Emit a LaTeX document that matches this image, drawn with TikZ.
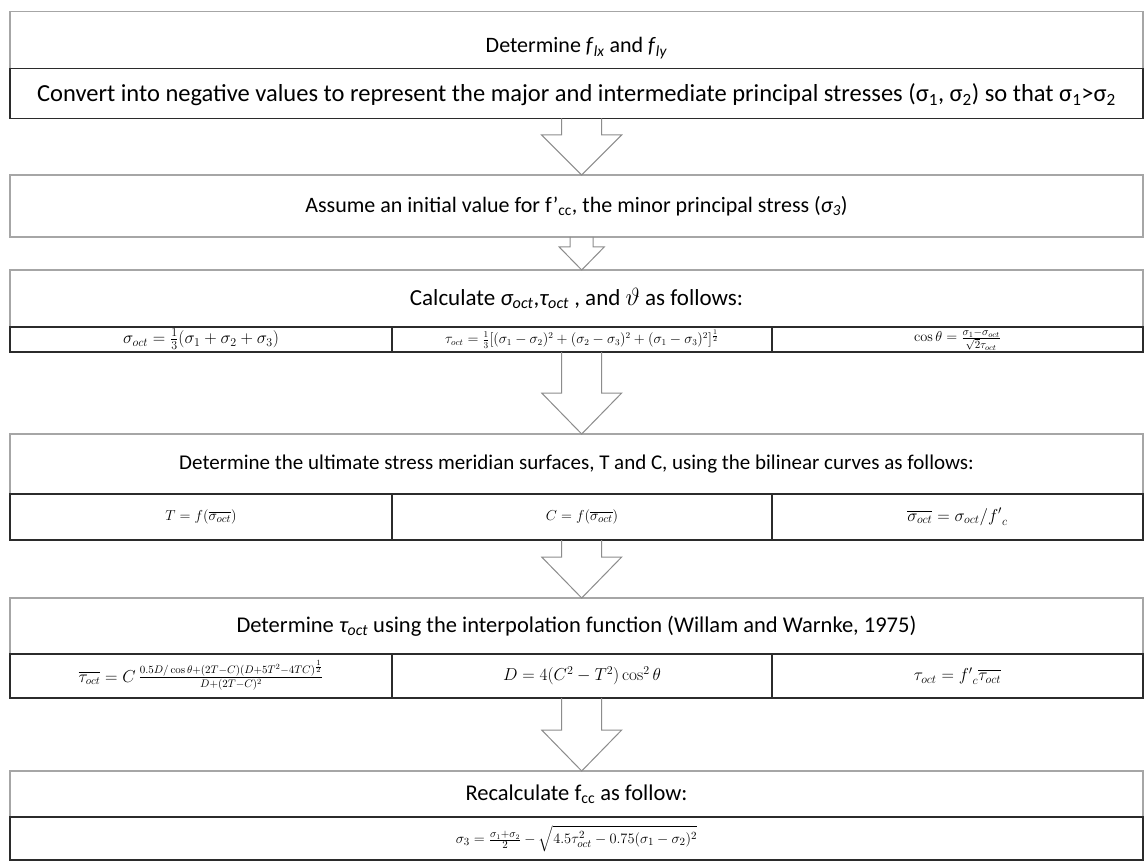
\documentclass[tikz,border=0pt]{standalone}
\usepackage{amsmath}
\usepackage[no-math]{fontspec}
\setmainfont{Carlito}
\usetikzlibrary{calc}
\definecolor{graybd}{HTML}{A6A6A6}
\definecolor{darkbd}{HTML}{2B2B2B}
\definecolor{arrowbd}{HTML}{8C8C8C}
\tikzset{
  every node/.style={inner sep=0pt, outer sep=0pt},
  headbox/.style={draw=graybd, line width=1.2pt, fill=white, minimum width=1133pt, font=\fontsize{22.5}{27}\selectfont},
  eqbox/.style={draw=darkbd, line width=1.2pt, fill=white, font=\fontsize{15}{18}\selectfont},
  blockarr/.style={draw=arrowbd, line width=1pt, line join=miter},
}
\newcommand\eqc[1]{\smash{\raisebox{-0.25em}{$\vcenter{\hbox{$#1$}}$}}}
\newcommand\flowarrow[5]{%
  \draw[blockarr] let \p1=(#1.south -| ax), \p2=(#2.north -| ax) in
  (\x1-#3,\y1) -- (\x1-#3,\y2+#5) -- (\x1-#4,\y2+#5) -- (\p2) --
  (\x1+#4,\y2+#5) -- (\x1+#3,\y2+#5) -- (\x1+#3,\y1);}
\begin{document}
\begin{tikzpicture}[x=1pt,y=-1pt]
\path[fill=white] (0,0) rectangle (1144,861);
\useasboundingbox (0,0) rectangle (1144,861);
\coordinate (ax) at (581.7,0);
% box A
\node[headbox, minimum height=56.6pt, text height=30pt, text depth=5pt, font=\fontsize{22}{26}\selectfont] (A1) at (576.5,40) {Determine \textit{f}\textsubscript{\textit{lx}} and \textit{f}\textsubscript{\textit{ly}}};
\node[eqbox, minimum width=1133pt, minimum height=50pt, font=\fontsize{24.5}{28}\selectfont, text height=21pt, text depth=5pt] (A2) at (576.5,93.3) {Convert into negative values to represent the major and intermediate principal stresses (σ\textsubscript{1}, σ\textsubscript{2}) so that σ\textsubscript{1}>σ\textsubscript{2}};
% box B
\node[headbox, minimum height=62pt, font=\fontsize{22}{26}\selectfont] (B) at (576.5,206) {Assume an initial value for f’\textsubscript{cc}, the minor principal stress (\textit{σ\textsubscript{3}})};
% box C
\node[headbox, minimum height=57pt, font=\fontsize{23}{27}\selectfont] (C1) at (576.5,298.5) {Calculate \textit{σ\textsubscript{oct}},\textit{τ\textsubscript{oct}} , and $\vartheta$ as follows:};
\node[eqbox, minimum width=382pt, minimum height=25pt, font=\fontsize{17}{19}\selectfont] (C2a) at (201,339.5) {\eqc{\sigma_{oct}=\tfrac{1}{3}(\sigma_1+\sigma_2+\sigma_3)}};
\node[eqbox, minimum width=380pt, minimum height=25pt, font=\fontsize{13.5}{15}\selectfont] (C2b) at (582,339.5) {\eqc{\tau_{oct}=\tfrac{1}{3}[(\sigma_1-\sigma_2)^2+(\sigma_2-\sigma_3)^2+(\sigma_1-\sigma_3)^2]^{\frac{1}{2}}}};
\node[eqbox, minimum width=371pt, minimum height=25pt, font=\fontsize{15.5}{18}\selectfont] (C2c) at (957.5,339.5) {\eqc{\cos\theta=\tfrac{\sigma_1-\sigma_{oct}}{\sqrt{2}\tau_{oct}}}};
% box D
\node[headbox, minimum height=60pt, font=\fontsize{21}{25}\selectfont] (D1) at (576.5,464) {Determine the ultimate stress meridian surfaces, T and C, using the bilinear curves as follows:};
\node[eqbox, minimum width=382pt, minimum height=46pt] (D2a) at (201,517) {\eqc{T=f(\overline{\sigma_{oct}})}};
\node[eqbox, minimum width=380pt, minimum height=46pt] (D2b) at (582,517) {\eqc{C=f(\overline{\sigma_{oct}})}};
\node[eqbox, minimum width=371pt, minimum height=46pt, font=\fontsize{16.5}{19}\selectfont] (D2c) at (957.5,517) {\eqc{\overline{\sigma_{oct}}=\sigma_{oct}/{f'}_c}};
% box E
\node[headbox, minimum height=56pt] (E1) at (576.5,626) {Determine \textit{τ\textsubscript{oct}} using the interpolation function (Willam and Warnke, 1975)};
\node[eqbox, minimum width=382pt, minimum height=44pt, font=\fontsize{16}{19}\selectfont] (E2a) at (201,676) {\eqc{\overline{\tau_{oct}}=C\,\tfrac{0.5D/\cos\theta+(2T-C)(D+5T^2-4TC)^{\frac{1}{2}}}{D+(2T-C)^2}}};
\node[eqbox, minimum width=380pt, minimum height=44pt, font=\fontsize{16.5}{19}\selectfont] (E2b) at (582,676) {\eqc{D=4(C^2-T^2)\cos^2\theta}};
\node[eqbox, minimum width=371pt, minimum height=44pt, font=\fontsize{17}{20}\selectfont] (E2c) at (957.5,676) {\eqc{\tau_{oct}={f'}_c\overline{\tau_{oct}}}};
% box F
\node[headbox, minimum height=46pt] (F1) at (576.5,794) {Recalculate f\textsubscript{cc} as follow:};
\node[eqbox, minimum width=1133pt, minimum height=43pt] (F2) at (576.5,838.5) {\eqc{\sigma_3=\tfrac{\sigma_1+\sigma_2}{2}-\sqrt{4.5\tau_{oct}^2-0.75(\sigma_1-\sigma_2)^2}}};
% arrows
\flowarrow{A2}{B}{20pt}{40pt}{40pt}
\flowarrow{B}{C1}{11.5pt}{22.5pt}{23pt}
\flowarrow{C2b}{D1}{20pt}{40pt}{41pt}
\flowarrow{D2b}{E1}{20pt}{40pt}{41pt}
\flowarrow{E2b}{F1}{20pt}{40pt}{41pt}
\end{tikzpicture}
\end{document}
